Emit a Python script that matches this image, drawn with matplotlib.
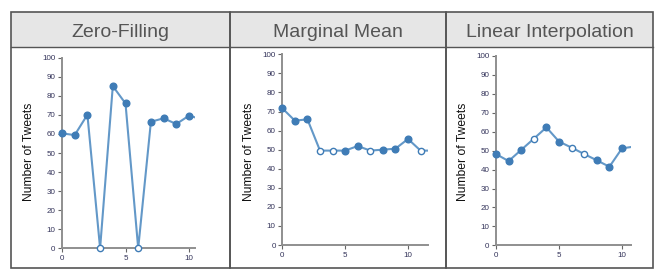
import matplotlib
matplotlib.use("Agg")
import matplotlib.pyplot as plt
from matplotlib.patches import Rectangle

plt.rcParams['font.family'] = ['Liberation Sans', 'DejaVu Sans']

titles = ["Zero-Filling", "Marginal Mean", "Linear Interpolation"]
ylabel = "Number of Tweets"

# values at x = 0..N (last value only continues the line past the axis end)
zero_vals = [60.3, 59.4, 70.1, 0, 85.1, 76.0, 0, 66.4, 68.2, 65.2, 69.6, 67.7]
zero_imputed = [False, False, False, True, False, False, True, False, False, False, False]

mean_vals = [71.7, 65.2, 65.9, 49.5, 49.5, 49.5, 51.9, 49.5, 50.0, 50.5, 55.6, 49.5, 49.5]
mean_imputed = [False, False, False, True, True, False, False, True, False, False, False, True]

lin_vals = [48.2, 44.5, 50.4, 56.3, 62.3, 54.8, 51.6, 48.2, 44.9, 41.5, 51.2, 52.2]
lin_imputed = [False, False, False, True, False, False, True, True, False, False, False]

yticks = [0, 10, 20, 30, 40, 50, 60, 70, 80, 90, 100]
xticks = [0, 5, 10]

series = [(zero_vals, zero_imputed), (mean_vals, mean_imputed), (lin_vals, lin_imputed)]

W, H = 672, 278
fig = plt.figure(figsize=(W / 100, H / 100), dpi=100)

# panel frames in pixels
panels = [(11, 230), (230, 446), (446, 653)]
top, head_bot, bottom = 12, 47, 268
# axes placement in pixels: (x0 pixel, px per unit, xmax, y0 pixel, y100 pixel)
axes_px = [(62, 12.7, 10.5, 248.3, 57.7),
           (282.3, 12.57, 11.6, 245.0, 54.3),
           (496, 12.6, 10.7, 245.3, 56.0)]
ylab_x = [29, 249, 463]

line_col = '#6398c8'
mark_col = '#3f7cb6'
border = '#555555'

for i, ((pl, pr), title, (vals, imp), (x0, ppu, xmax, yb, yt)) in enumerate(
        zip(panels, titles, series, axes_px)):
    # header
    fig.patches.append(Rectangle((pl / W, 1 - head_bot / H), (pr - pl) / W, (head_bot - top) / H,
                                 transform=fig.transFigure, facecolor='#e6e6e6',
                                 edgecolor='none', zorder=0))
    fig.patches.append(Rectangle((pl / W, 1 - bottom / H), (pr - pl) / W, (bottom - top) / H,
                                 transform=fig.transFigure, facecolor='none',
                                 edgecolor=border, lw=1.2, zorder=5))
    fig.lines.append(plt.Line2D([pl / W, pr / W], [1 - head_bot / H] * 2,
                                transform=fig.transFigure, color=border, lw=1.0))
    fig.text((pl + pr) / 2 / W, 1 - 37.2 / H, title, ha='center', va='baseline',
             fontsize=14, color='#555555')

    ax = fig.add_axes([x0 / W, 1 - yb / H, (xmax * ppu) / W, (yb - yt) / H])
    ax.set_xlim(0, xmax)
    ax.set_ylim(0, 100)
    xs = list(range(len(vals)))
    ax.plot(xs, vals, color=line_col, lw=1.5, zorder=2)
    n = len(imp)
    fx = [x for x in range(n) if not imp[x]]
    fy = [vals[x] for x in fx]
    ox = [x for x in range(n) if imp[x]]
    oy = [vals[x] for x in ox]
    ax.plot(fx, fy, 'o', ms=4.8, color=mark_col, mec=mark_col, clip_on=False, zorder=3)
    ax.plot(ox, oy, 'o', ms=4.5, mfc='white', mec=mark_col, mew=1.0, clip_on=False, zorder=3)

    for s in ['top', 'right']:
        ax.spines[s].set_visible(False)
    for s in ['left', 'bottom']:
        ax.spines[s].set_color('#8f8f8f')
        ax.spines[s].set_linewidth(1.4)
    ax.set_yticks(yticks)
    ax.set_xticks(xticks)
    ax.tick_params(axis='both', length=3.2, width=0.8, color='#666666', labelsize=5.8,
                   labelcolor='#33335a', pad=1.5)
    ax.patch.set_alpha(0)
    fig.text(ylab_x[i] / W, 1 - 152 / H, ylabel, rotation=90, ha='center', va='center',
             fontsize=8.7, color='#111111')

fig.savefig('out.png', dpi=100)
